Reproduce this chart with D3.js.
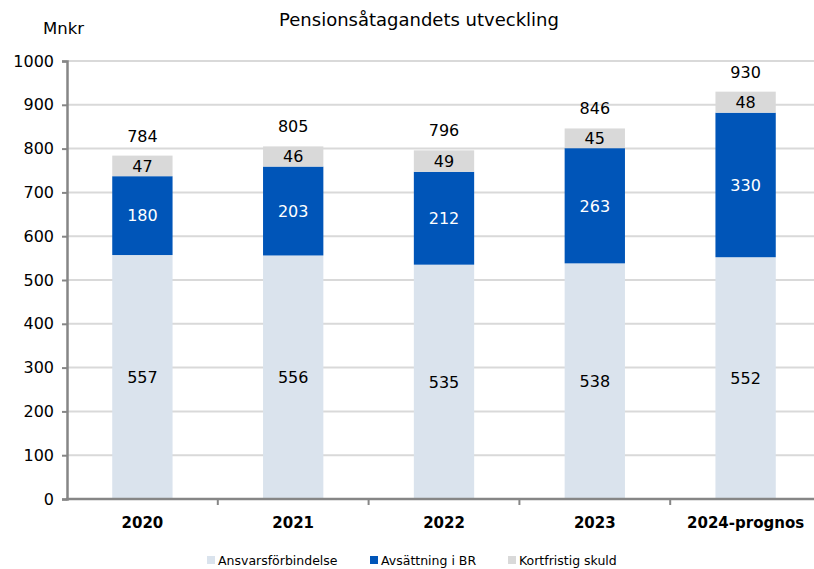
<!DOCTYPE html>
<html>
<head>
<meta charset="utf-8">
<script src="https://cdn.jsdelivr.net/npm/d3@7"></script>
<style>
  body { margin: 0; background: #fff; }
  svg text { font-family: "DejaVu Sans", sans-serif; fill: #000; }
</style>
</head>
<body>
<div id="chart"></div>
<script>
var years = ["2020", "2021", "2022", "2023", "2024-prognos"];
var ansvar = [557, 556, 535, 538, 552];
var avsattning = [180, 203, 212, 263, 330];
var kortfristig = [47, 46, 49, 45, 48];
var totals = [784, 805, 796, 846, 930];
var seriesNames = ["Ansvarsförbindelse", "Avsättning i BR", "Kortfristig skuld"];
var colors = ["#dae3ed", "#0055b8", "#d9d9d9"];
var yTicks = [0, 100, 200, 300, 400, 500, 600, 700, 800, 900, 1000];

var width = 814, height = 569;

var svg = d3.select("#chart").append("svg")
  .attr("width", width)
  .attr("height", height);

var x = d3.scaleBand()
  .domain(years)
  .range([67, 821])
  .paddingInner(0.6)
  .paddingOuter(0.3);

var y = d3.scaleLinear()
  .domain([0, 1000])
  .range([499, 61]);

// gridlines
svg.append("g")
  .selectAll("line")
  .data(yTicks.slice(1))
  .enter().append("line")
    .attr("x1", 67)
    .attr("x2", width)
    .attr("y1", d => y(d))
    .attr("y2", d => y(d))
    .attr("stroke", "#d9d9d9")
    .attr("stroke-width", 2);

var rows = years.map((yr, i) => ({
  year: yr,
  Ansvarsförbindelse: ansvar[i],
  "Avsättning i BR": avsattning[i],
  "Kortfristig skuld": kortfristig[i],
  total: totals[i]
}));

var stack = d3.stack().keys(seriesNames)(rows);

var layers = svg.append("g")
  .selectAll("g")
  .data(stack)
  .enter().append("g")
    .attr("fill", (d, i) => colors[i]);

layers.selectAll("rect")
  .data(d => d)
  .enter().append("rect")
    .attr("x", d => x(d.data.year))
    .attr("width", x.bandwidth())
    .attr("y", d => y(d[1]))
    .attr("height", d => y(d[0]) - y(d[1]));

// segment labels
stack.forEach((layer, li) => {
  svg.append("g")
    .selectAll("text")
    .data(layer)
    .enter().append("text")
      .attr("x", d => x(d.data.year) + x.bandwidth() / 2)
      .attr("y", d => (y(d[0]) + y(d[1])) / 2)
      .attr("dy", "0.36em")
      .attr("text-anchor", "middle")
      .style("font-size", "16px")
      .style("fill", li === 1 ? "#fff" : "#000")
      .text(d => d[1] - d[0]);
});

// totals
svg.append("g")
  .selectAll("text")
  .data(rows)
  .enter().append("text")
    .attr("x", d => x(d.year) + x.bandwidth() / 2)
    .attr("y", d => y(d.total) - 14)
    .attr("text-anchor", "middle")
    .style("font-size", "16px")
    .text(d => d.total);

// y axis
var yAxis = svg.append("g")
  .attr("transform", "translate(67,0)")
  .call(d3.axisLeft(y).tickValues(yTicks).tickSize(5).tickPadding(8).tickFormat(d3.format("d")));
yAxis.selectAll("line").attr("stroke", "#868686").attr("stroke-width", 2);
yAxis.select(".domain").attr("stroke", "#868686").attr("stroke-width", 2.5);
yAxis.selectAll("text").style("font-size", "16px").style("font-family", "DejaVu Sans, sans-serif").attr("fill", "#000");

// x axis
var step = x.step();
svg.append("line")
  .attr("x1", 66).attr("x2", width)
  .attr("y1", y(0)).attr("y2", y(0))
  .attr("stroke", "#868686").attr("stroke-width", 2.5);
svg.append("g")
  .selectAll("line")
  .data(years.slice(1))
  .enter().append("line")
    .attr("x1", d => x(d) - x.paddingInner() * step / 2)
    .attr("x2", d => x(d) - x.paddingInner() * step / 2)
    .attr("y1", y(0)).attr("y2", y(0) + 6)
    .attr("stroke", "#868686").attr("stroke-width", 2);
svg.append("g")
  .selectAll("text")
  .data(years)
  .enter().append("text")
    .attr("x", d => x(d) + x.bandwidth() / 2)
    .attr("y", 528)
    .attr("text-anchor", "middle")
    .style("font-size", "15px")
    .style("font-weight", "bold")
    .text(d => d);

// title and unit
svg.append("text")
  .attr("x", 419).attr("y", 26)
  .attr("text-anchor", "middle")
  .style("font-size", "18px")
  .text("Pensionsåtagandets utveckling");
svg.append("text")
  .attr("x", 43).attr("y", 34)
  .style("font-size", "16.5px")
  .text("Mnkr");

// legend
var legendX = [207, 370, 508];
var legend = svg.append("g")
  .selectAll("g")
  .data(seriesNames)
  .enter().append("g")
    .attr("transform", (d, i) => "translate(" + legendX[i] + ",556)");
legend.append("rect")
  .attr("width", 8).attr("height", 8)
  .attr("fill", (d, i) => colors[i]);
legend.append("text")
  .attr("x", 11).attr("y", 8.5)
  .style("font-size", "12.5px")
  .text(d => d);
</script>
</body>
</html>
